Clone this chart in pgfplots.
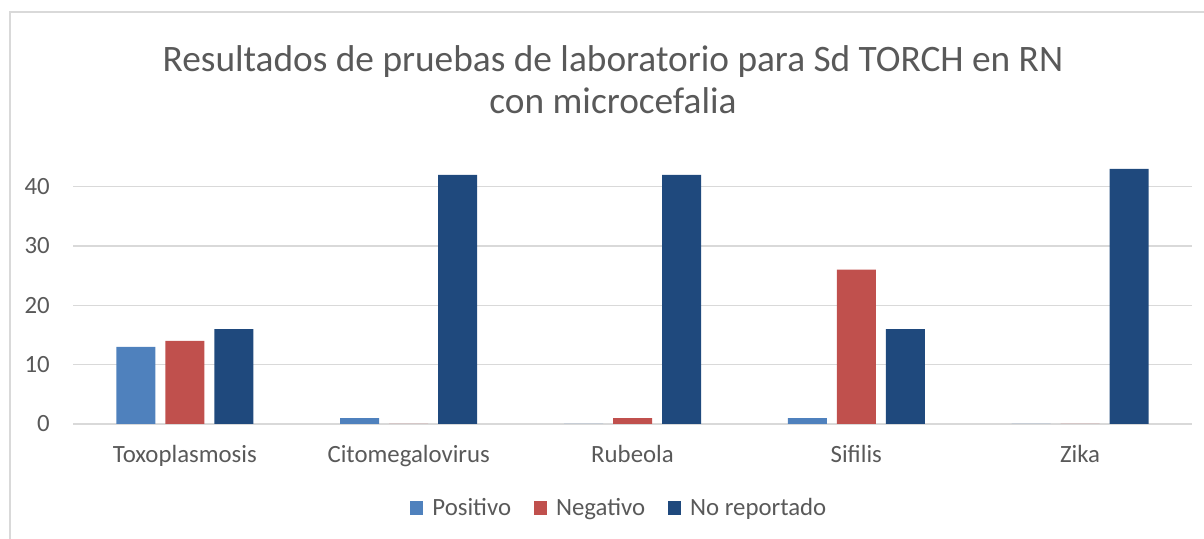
\documentclass[border=0pt]{standalone}
\usepackage{pgfplots}
\pgfplotsset{compat=1.18}
\usepackage{fontspec}
\setmainfont{Carlito}
\definecolor{pos}{HTML}{4F81BD}
\definecolor{neg}{HTML}{C0504D}
\definecolor{nor}{HTML}{1F497D}
\definecolor{txt}{HTML}{595959}
\definecolor{grd}{HTML}{D9D9D9}
\begin{document}
\begin{tikzpicture}
\useasboundingbox (0,0) rectangle (903pt,404.25pt);
\draw[grd,line width=1pt] (7.5pt,0pt) -- (7.5pt,395.25pt) -- (903pt,395.25pt);
\node[anchor=base,text=txt,font=\fontsize{28}{34}\selectfont,inner sep=0pt] at (459.75pt,350.25pt) {Resultados de pruebas de laboratorio para Sd TORCH en RN};
\node[anchor=base,text=txt,font=\fontsize{28}{34}\selectfont,inner sep=0pt] at (459.75pt,319pt) {con microcefalia};
\begin{axis}[
  at={(54.75pt,86.25pt)}, anchor=south west,
  scale only axis, width=839.25pt, height=200.25pt,
  ybar=7.5pt, bar width=29.25pt,
  xmin=-0.5, xmax=4.5, ymin=0, ymax=45,
  xtick={0,1,2,3,4},
  xticklabels={Toxoplasmosis,Citomegalovirus,Rubeola,Sifilis,Zika},
  ytick={0,10,20,30,40},
  axis line style={draw=none},
  major tick length=0pt,
  ymajorgrids, grid style={grd,line width=1pt},
  tick label style={text=txt,font=\fontsize{18.6}{22}\selectfont},
  /pgf/number format/assume math mode=true,
  xticklabel style={anchor=base,yshift=-29.25pt,inner sep=0pt},
  yticklabel style={anchor=east,xshift=-17.25pt,inner sep=0pt},
  legend columns=3,
  legend style={at={(0.4884,-0.3146)},anchor=center,draw=none,fill=none,
    font=\fontsize{18.6}{22}\selectfont,text=txt,
    /tikz/every odd column/.append style={column sep=5pt},
    /tikz/every even column/.append style={column sep=15pt}},
  legend image code/.code={\fill[#1,draw=none] (0pt,-4.9pt) rectangle (9.75pt,4.9pt);},
]
\addplot[fill=pos,draw=none] coordinates {(0,13) (1,1) (2,0) (3,1) (4,0)};
\addplot[fill=neg,draw=none] coordinates {(0,14) (1,0) (2,1) (3,26) (4,0)};
\addplot[fill=nor,draw=none] coordinates {(0,16) (1,42) (2,42) (3,16) (4,43)};
\legend{Positivo,Negativo,No reportado}
\end{axis}
\end{tikzpicture}
\end{document}
